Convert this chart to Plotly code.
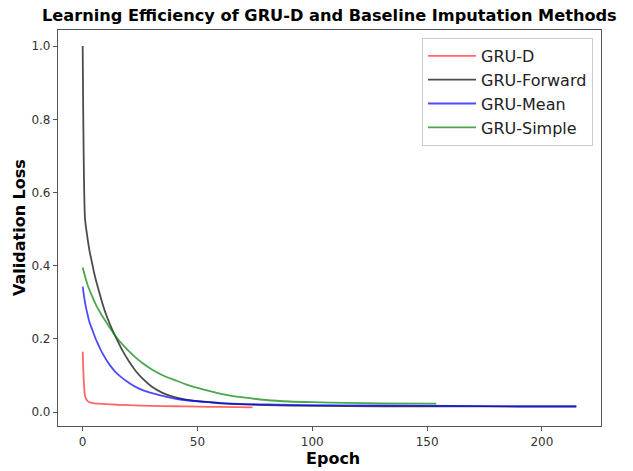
import plotly.graph_objects as go

# GRU-D
grud_epoch = [0, 1, 2, 3, 4, 5, 7, 10, 15, 20, 30, 40, 50, 60, 74]
grud_loss = [0.165, 0.045, 0.031, 0.027, 0.025, 0.024, 0.023, 0.022, 0.020, 0.019, 0.017, 0.016, 0.015, 0.014, 0.013]

# GRU-Forward
fwd_epoch = [0, 1, 2, 3, 4, 5, 6, 8, 10, 12, 14, 17, 20, 23, 26, 30, 35, 40, 45, 50, 55, 60, 70, 80, 100, 130, 160, 190, 215]
fwd_loss = [1.0, 0.53, 0.48, 0.44, 0.41, 0.38, 0.355, 0.31, 0.27, 0.238, 0.21, 0.172, 0.14, 0.113, 0.092, 0.07, 0.052, 0.041, 0.034, 0.030, 0.027, 0.024, 0.021, 0.019, 0.017, 0.016, 0.016, 0.015, 0.015]

# GRU-Mean
mean_epoch = [0, 1, 2, 3, 4, 6, 8, 10, 12, 15, 19, 23, 27, 33, 40, 47, 55, 65, 80, 100, 130, 160, 190, 215]
mean_loss = [0.343, 0.30, 0.27, 0.245, 0.228, 0.195, 0.168, 0.146, 0.127, 0.105, 0.085, 0.069, 0.058, 0.047, 0.037, 0.031, 0.027, 0.023, 0.021, 0.019, 0.018, 0.017, 0.016, 0.016]

# GRU-Simple
simple_epoch = [0, 2, 4, 6, 8, 10, 14, 18, 22, 26, 30, 35, 40, 45, 50, 55, 60, 70, 80, 90, 100, 115, 130, 154]
simple_loss = [0.395, 0.35, 0.318, 0.29, 0.268, 0.248, 0.21, 0.18, 0.155, 0.134, 0.117, 0.1, 0.088, 0.076, 0.066, 0.058, 0.05, 0.04, 0.033, 0.029, 0.027, 0.025, 0.024, 0.023]

x_ticks = [0, 50, 100, 150, 200]
y_ticks = [0.0, 0.2, 0.4, 0.6, 0.8, 1.0]
y_tick_text = ["0.0", "0.2", "0.4", "0.6", "0.8", "1.0"]

series = [
    ("GRU-D", grud_epoch, grud_loss, "rgba(255,0,0,0.6)"),
    ("GRU-Forward", fwd_epoch, fwd_loss, "rgba(0,0,0,0.7)"),
    ("GRU-Mean", mean_epoch, mean_loss, "rgba(0,0,255,0.7)"),
    ("GRU-Simple", simple_epoch, simple_loss, "rgba(0,128,0,0.7)"),
]

fig = go.Figure()
for name, x, y, c in series:
    fig.add_trace(go.Scatter(x=x, y=y, mode="lines", name=name,
                             line=dict(color=c, width=1.8, shape="spline", smoothing=0.6)))

W, H = 633, 471
L, R, T, B = 58, 32, 30, 45
PW, PH = W - L - R, H - T - B

axis_common = dict(showgrid=False, zeroline=False, showline=True, mirror=True,
                   linecolor="#555555", linewidth=1.2, ticks="outside", ticklen=4,
                   tickcolor="#555555", tickwidth=1,
                   tickfont=dict(family="DejaVu Sans", size=12, color="#333333"))

fig.update_layout(
    width=W, height=H,
    margin=dict(l=L, r=R, t=T, b=B),
    plot_bgcolor="white", paper_bgcolor="white",
    showlegend=True,
    legend=dict(x=(593 - L) / PW, y=(H - B - 38) / PH, xanchor="right", yanchor="top",
                bgcolor="rgba(255,255,255,0.9)", bordercolor="#cccccc", borderwidth=1,
                font=dict(family="DejaVu Sans", size=16, color="#222222"),
                tracegroupgap=0, itemwidth=48),
    xaxis=dict(range=[-10.75, 225.75], tickvals=x_ticks, **axis_common),
    yaxis=dict(range=[-0.038, 1.044], tickvals=y_ticks, ticktext=y_tick_text, **axis_common),
    annotations=[
        dict(text="<b>Learning Efficiency of GRU-D and Baseline Imputation Methods</b>",
             xref="paper", yref="paper", x=0.5, y=1 + (T - 15) / PH,
             xanchor="center", yanchor="middle", showarrow=False,
             font=dict(family="DejaVu Sans", size=16.2, color="black")),
        dict(text="<b>Epoch</b>", xref="paper", yref="paper",
             x=(333 - L) / PW, y=-(458 - (H - B)) / PH,
             xanchor="center", yanchor="middle", showarrow=False,
             font=dict(family="DejaVu Sans", size=16, color="black")),
        dict(text="<b>Validation Loss</b>", xref="paper", yref="paper",
             x=-(L - 19) / PW, y=0.5, textangle=-90,
             xanchor="center", yanchor="middle", showarrow=False,
             font=dict(family="DejaVu Sans", size=16, color="black")),
    ],
)

fig.write_html("out.html")
